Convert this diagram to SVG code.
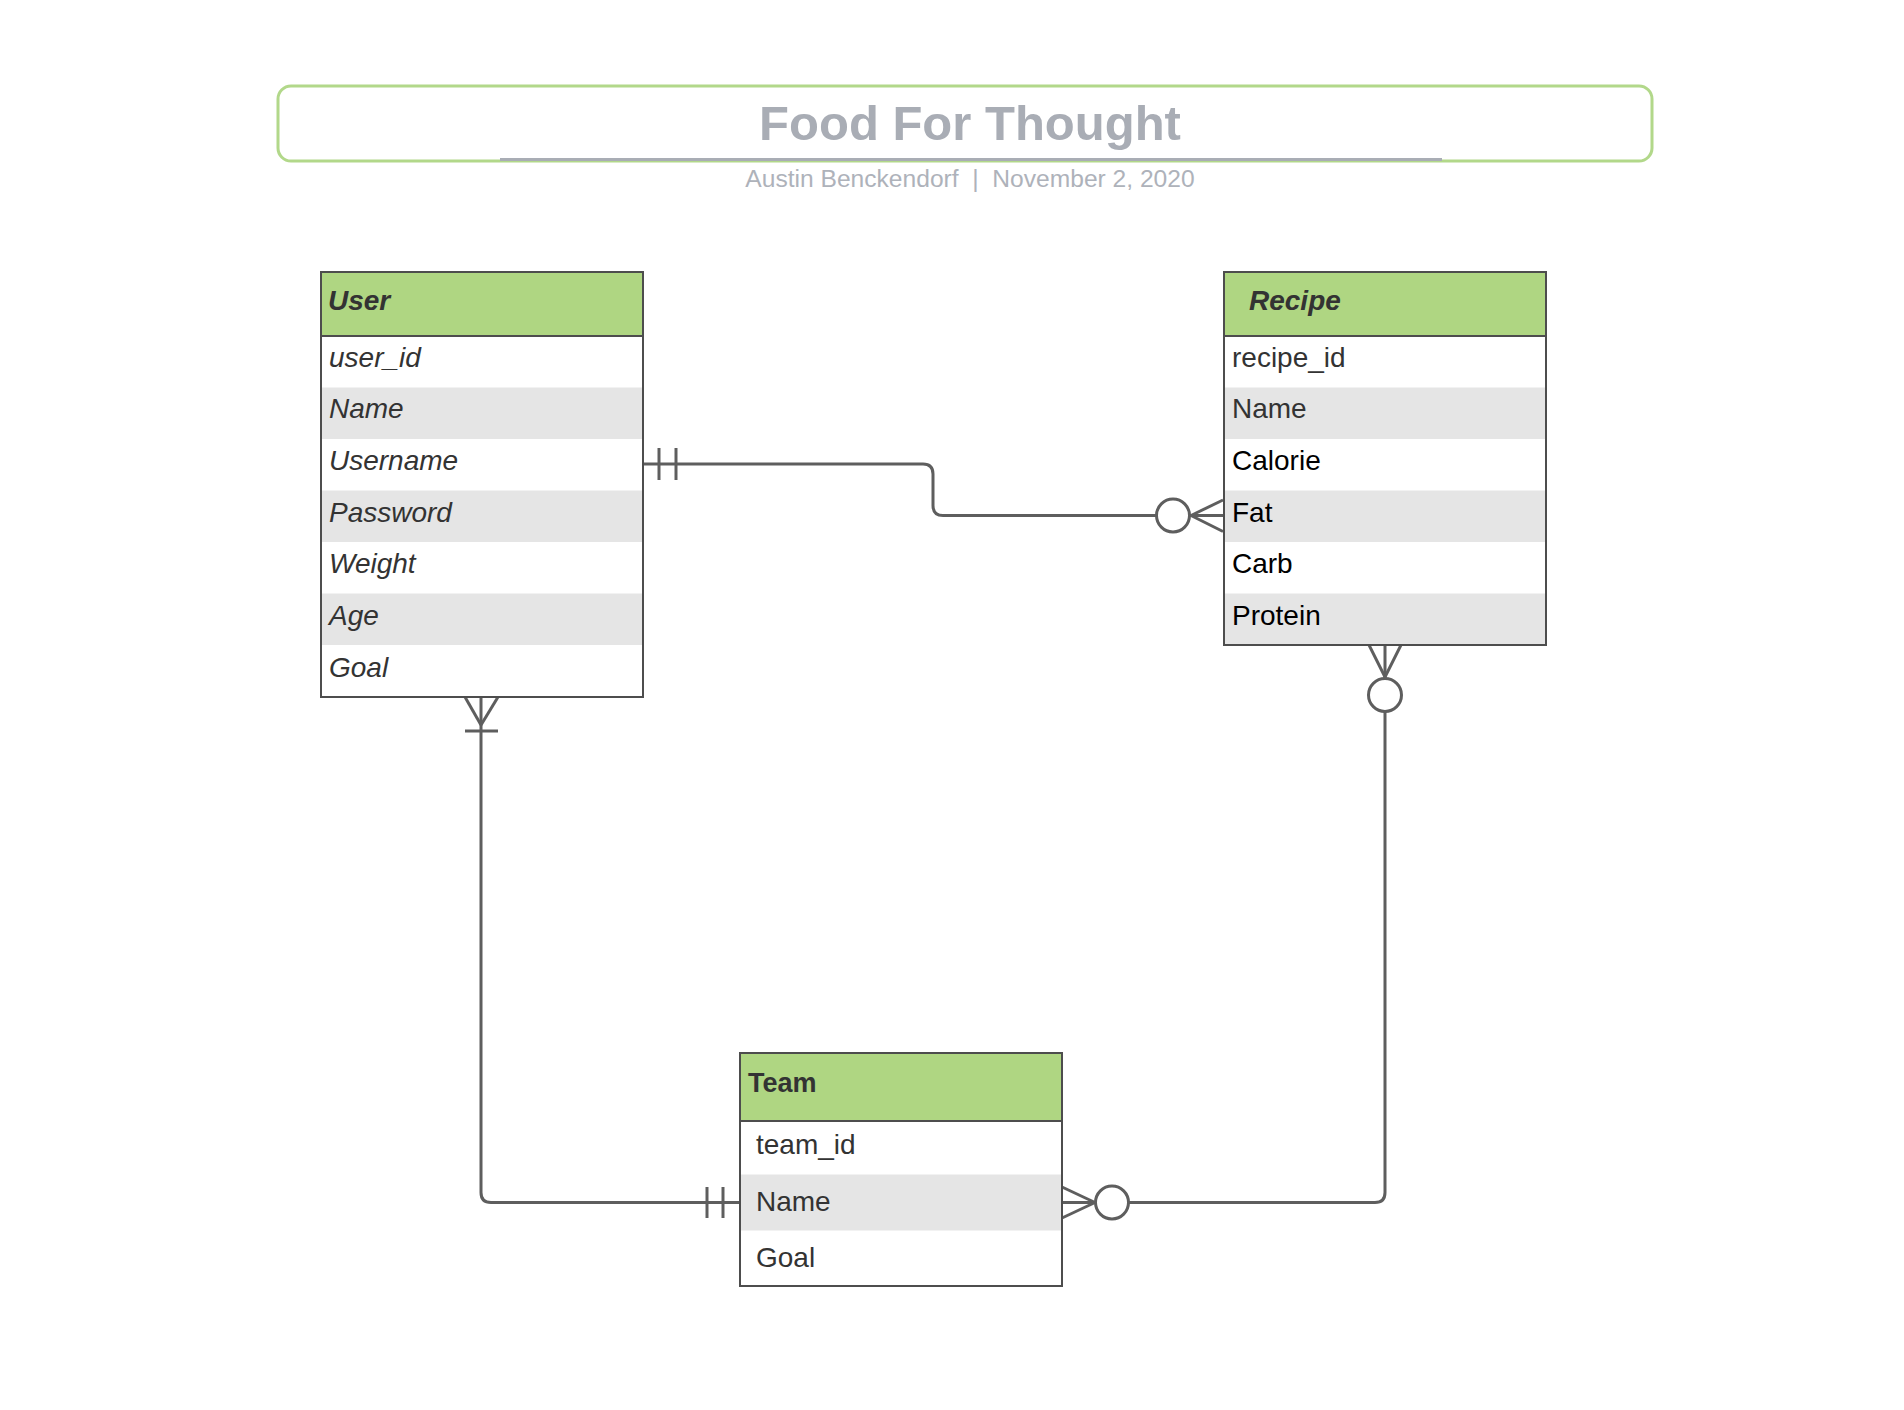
<svg xmlns="http://www.w3.org/2000/svg" width="1904" height="1410" viewBox="0 0 1904 1410">
<style>
.bg{fill:#ffffff}
.hdr{fill:#afd682;stroke:#4d4d4d;stroke-width:2}
.box{fill:none;stroke:#4d4d4d;stroke-width:2}
.alt{fill:#e5e5e5}
.wrow{fill:#ffffff}
.conn{fill:none;stroke:#5e5e5e;stroke-width:3}
.circ{fill:#ffffff;stroke:#5e5e5e;stroke-width:3}
.htxt{font-family:"Liberation Sans",Arial,sans-serif;font-size:28px;font-weight:bold;fill:#333333}
.rtxt{font-family:"Liberation Sans",Arial,sans-serif;font-size:28px;fill:#333333}
.btxt{font-family:"Liberation Sans",Arial,sans-serif;font-size:28px;fill:#000000}
.it{font-style:italic}
.title{font-family:"Liberation Sans",Arial,sans-serif;font-size:49px;font-weight:bold;fill:#a9adb5}
.sub{font-family:"Liberation Sans",Arial,sans-serif;font-size:24.6px;fill:#aeb2ba;white-space:pre}
</style>
<rect class="bg" x="0" y="0" width="1904" height="1410"/>

<g id="title">
<rect x="278" y="86" width="1374" height="75" rx="13" ry="13" fill="#ffffff" stroke="#b2d88a" stroke-width="3"/>
<line x1="500" y1="159.5" x2="1442" y2="159.5" stroke="#a9adb5" stroke-width="3"/>
<text class="title" x="970" y="140" text-anchor="middle">Food For Thought</text>
<text class="sub" x="970" y="187" text-anchor="middle" xml:space="preserve">Austin Benckendorf  |  November 2, 2020</text>
</g>

<g id="connectors">
<!-- User to Recipe -->
<path class="conn" d="M643,464 H923 Q933,464 933,474 V505.5 Q933,515.5 943,515.5 H1223"/>
<line class="conn" x1="659" y1="448" x2="659" y2="480"/>
<line class="conn" x1="676" y1="448" x2="676" y2="480"/>
<line class="conn" x1="1191" y1="515.5" x2="1223" y2="500"/>
<line class="conn" x1="1191" y1="515.5" x2="1223" y2="531.5"/>
<circle class="circ" cx="1173" cy="515.5" r="16.5"/>
<!-- User to Team -->
<path class="conn" d="M481,697 V1192.5 Q481,1202.5 491,1202.5 H739"/>
<line class="conn" x1="465" y1="697" x2="481" y2="725"/>
<line class="conn" x1="498" y1="697" x2="481" y2="725"/>
<line class="conn" x1="465" y1="731" x2="498" y2="731"/>
<line class="conn" x1="707" y1="1187" x2="707" y2="1218"/>
<line class="conn" x1="723" y1="1187" x2="723" y2="1218"/>
<!-- Team to Recipe -->
<path class="conn" d="M1062,1202.5 H1375 Q1385,1202.5 1385,1192.5 V645"/>
<line class="conn" x1="1062" y1="1187" x2="1095" y2="1202.5"/>
<line class="conn" x1="1062" y1="1218" x2="1095" y2="1202.5"/>
<circle class="circ" cx="1112" cy="1202.5" r="16.5"/>
<line class="conn" x1="1369" y1="645" x2="1385" y2="677"/>
<line class="conn" x1="1401" y1="645" x2="1385" y2="677"/>
<circle class="circ" cx="1385" cy="695" r="16.5"/>
</g>

<g id="user">
<rect class="wrow" x="321" y="336" width="321" height="360"/>
<rect class="alt" x="321" y="387.5" width="321" height="51.5"/>
<rect class="alt" x="321" y="490.5" width="321" height="51.5"/>
<rect class="alt" x="321" y="593.5" width="321" height="51.5"/>
<rect class="hdr" x="321" y="272" width="322" height="64"/>
<rect class="box" x="321" y="272" width="322" height="425"/>
<text class="htxt it" x="328" y="310">User</text>
<text class="rtxt it" x="329" y="367">user_id</text>
<text class="rtxt it" x="329" y="418">Name</text>
<text class="rtxt it" x="329" y="470">Username</text>
<text class="rtxt it" x="329" y="522">Password</text>
<text class="rtxt it" x="329" y="573">Weight</text>
<text class="rtxt it" x="329" y="625">Age</text>
<text class="rtxt it" x="329" y="677">Goal</text>
</g>

<g id="recipe">
<rect class="wrow" x="1224" y="336" width="322" height="309"/>
<rect class="alt" x="1224" y="387.5" width="322" height="51.5"/>
<rect class="alt" x="1224" y="490.5" width="322" height="51.5"/>
<rect class="alt" x="1224" y="593.5" width="322" height="51.5"/>
<rect class="hdr" x="1224" y="272" width="322" height="64"/>
<rect class="box" x="1224" y="272" width="322" height="373"/>
<text class="htxt it" x="1249" y="310">Recipe</text>
<text class="rtxt" x="1232" y="367">recipe_id</text>
<text class="rtxt" x="1232" y="418">Name</text>
<text class="btxt" x="1232" y="470">Calorie</text>
<text class="btxt" x="1232" y="522">Fat</text>
<text class="btxt" x="1232" y="573">Carb</text>
<text class="btxt" x="1232" y="625">Protein</text>
</g>

<g id="team">
<rect class="wrow" x="740" y="1121" width="322" height="165"/>
<rect class="alt" x="740" y="1174.5" width="322" height="56"/>
<rect class="hdr" x="740" y="1053" width="322" height="68"/>
<rect class="box" x="740" y="1053" width="322" height="233"/>
<text class="htxt" x="748" y="1092" style="font-size:27px">Team</text>
<text class="rtxt" x="756" y="1154">team_id</text>
<text class="rtxt" x="756" y="1211">Name</text>
<text class="rtxt" x="756" y="1267">Goal</text>
</g>
</svg>
